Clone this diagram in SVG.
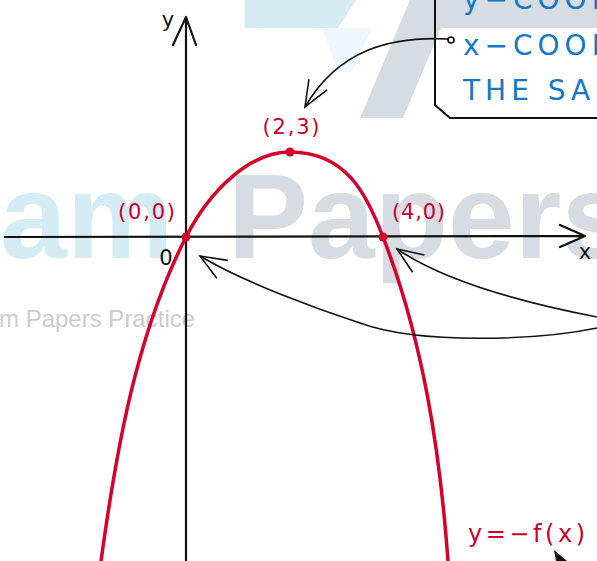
<svg xmlns="http://www.w3.org/2000/svg" width="597" height="561" viewBox="0 0 597 561">
<defs>
<style>
.wm-blue{fill:#d5ecf5}
.wm-gray{fill:#d6dce1}
.wm-big{font-family:"Liberation Sans",Arial,sans-serif;font-weight:bold;font-size:120px}
.wm-small{font-family:"Liberation Sans",Arial,sans-serif;font-size:24px;fill:#cccccc}
.axis{stroke:#111;stroke-width:2.2;fill:none;stroke-linecap:round;stroke-linejoin:round}
.curve{stroke:#d4002a;stroke-width:3.5;fill:none;stroke-linecap:round}
.conn{stroke:#111;stroke-width:1.6;fill:none}
.lbl-red{font-family:"DejaVu Sans",sans-serif;font-size:21px;fill:#c8002c}
.lbl-blk{font-family:"DejaVu Sans",sans-serif;font-size:21px;fill:#111}
.box-txt{font-family:"DejaVu Sans",sans-serif;font-size:28px;fill:#1479c4;letter-spacing:5px}
.dot{fill:#d4002a}
</style>
<marker id="arr" markerUnits="userSpaceOnUse" viewBox="-30 -15 32 30" refX="0" refY="0" markerWidth="32" markerHeight="30" orient="auto" overflow="visible">
<path d="M-26,-10.5 L0,0 L-26,10.5" fill="none" stroke="#111" stroke-width="1.6"/>
</marker>
</defs>
<rect x="0" y="0" width="597" height="561" fill="#ffffff"/>
<g id="watermark">
<polygon class="wm-blue" points="245,0 356,0 338,28 245,28"/>
<polygon fill="#eef7fb" points="322,28 372,28 352,72 338,72"/>
<polygon class="wm-gray" points="410,0 599,0 599,28 441,28 403,118 360,118"/>
<text class="wm-big" x="0" y="258" fill="#d5ecf5">am</text>
<text class="wm-big" x="228" y="258" fill="#d6dce1">Papers</text>
<text class="wm-small" x="-1" y="327">m Papers Practice</text>
</g>
<g id="note-box">
<path d="M435,-2 L435,105 L450,118 L599,118" fill="none" stroke="#111" stroke-width="2"/>
<text class="box-txt" x="463" y="9">y−COOR</text>
<text class="box-txt" x="463" y="55">x−COOR</text>
<text class="box-txt" x="463" y="100">THE SA</text>
</g>
<g id="axes">
<path class="axis" d="M5,237 L585,236 M560,225 L585,236 L560,247"/>
<path class="axis" d="M186,561 L186,17 M173,45 L186,17 L196,45"/>
<text class="lbl-blk" x="168" y="27" text-anchor="middle">y</text>
<text class="lbl-blk" x="585" y="259" text-anchor="middle">x</text>
<text class="lbl-blk" x="166" y="265" text-anchor="middle">0</text>
</g>
<g id="curve">
<path class="curve" d="M101,561 C116,452 136,335 186,237 C210,190 250,152 290,152 C345,152 366,192 383,237 C423,340 440,451 448,561"/>
<text class="lbl-red" x="468" y="542" font-size="24" style="font-size:24px" textLength="117" lengthAdjust="spacing">y=−f(x)</text>
</g>
<g id="point-vertex">
<circle class="dot" cx="290" cy="152" r="4.5"/>
<text class="lbl-red" x="291" y="134" text-anchor="middle" textLength="57" lengthAdjust="spacing">(2,3)</text>
</g>
<g id="point-origin">
<circle class="dot" cx="186" cy="237" r="4.5"/>
<text class="lbl-red" x="146.5" y="219" text-anchor="middle" textLength="57" lengthAdjust="spacing">(0,0)</text>
</g>
<g id="point-root4">
<circle class="dot" cx="383" cy="237" r="4.5"/>
<text class="lbl-red" x="418.5" y="219" text-anchor="middle" textLength="53" lengthAdjust="spacing">(4,0)</text>
</g>
<g id="connectors">
<path class="conn" d="M449,39 C390,36 338,50 305,107" marker-end="url(#arr)"/>
<circle cx="451" cy="40" r="3" fill="#fff" stroke="#111" stroke-width="1.6"/>
<path class="conn" d="M597,328 C540,340 420,345 360,323 C320,310 245,283 200,256" marker-end="url(#arr)"/>
<path class="conn" d="M597,317 C540,306 450,285 397,249" marker-end="url(#arr)"/>
<polygon points="554,550 567,561 556,561" fill="#111"/>
</g>
</svg>
